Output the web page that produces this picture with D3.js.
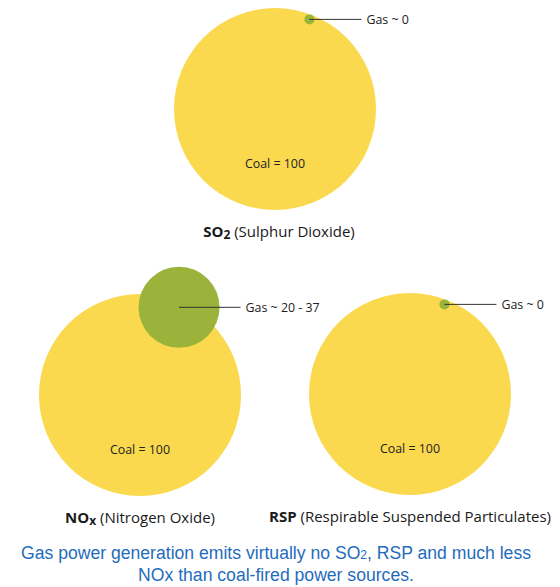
<!DOCTYPE html>
<html>
<head>
<meta charset="utf-8">
<script src="https://cdn.jsdelivr.net/npm/d3@7"></script>
<style>
  html, body { margin: 0; padding: 0; background: #ffffff; }
  svg { display: block; }
</style>
</head>
<body>
<svg id="chart" width="560" height="587"></svg>
<script>
// Emission comparison: coal-fired vs gas-fired generation (coal = 100)
const pollutants = ["SO", "NO", "RSP"];
const pollutantSubs = ["2", "x", ""];
const pollutantNames = ["(Sulphur Dioxide)", "(Nitrogen Oxide)", "(Respirable Suspended Particulates)"];
const coalValues = [100, 100, 100];
const gasValues = [0, 37, 0];
const coalLabels = ["Coal = 100", "Coal = 100", "Coal = 100"];
const gasLabels = ["Gas ~ 0", "Gas ~ 20 - 37", "Gas ~ 0"];
const footnoteLines = [
  ["Gas power generation emits virtually no SO", "2", ", RSP and much less"],
  ["NOx than coal-fired power sources.", "", ""]
];

const svg = d3.select("#chart");
const labelFont = "'Open Sans', 'Noto Sans', sans-serif";

// Radius proportional to value, with a small floor so near-zero emissions stay visible
const r = d3.scaleLinear().domain([0, 100]).range([5, 101]);

// Panel centres (one on top, two underneath) and where the gas circle sits on each rim
const centers = [[275, 109], [140, 395], [410, 394]];
const gasAngles = [-69, -66, -69];
const captionShift = [4, 0, 0];

const panels = svg.selectAll("g.panel")
  .data(pollutants.map((p, i) => ({
    p, sub: pollutantSubs[i], name: pollutantNames[i],
    coal: coalValues[i], gas: gasValues[i],
    coalLabel: coalLabels[i], gasLabel: gasLabels[i],
    cx: centers[i][0], cy: centers[i][1],
    angle: gasAngles[i] * Math.PI / 180, shift: captionShift[i]
  })))
  .join("g")
  .attr("class", "panel")
  .attr("transform", d => `translate(${d.cx},${d.cy})`);

// Coal circle
panels.append("circle")
  .attr("r", d => r(d.coal))
  .attr("fill", "#fad94e");

// Gas circle on the upper-right rim of the coal circle
panels.each(function (d) {
  const R = r(d.coal), gr = r(d.gas);
  const dist = R - 5;
  d.gx = dist * Math.cos(d.angle);
  d.gy = dist * Math.sin(d.angle);
  d.gr = gr;
  d.lineEnd = d.gx + Math.max(52, gr + 21);
});

panels.append("circle")
  .attr("cx", d => d.gx)
  .attr("cy", d => d.gy)
  .attr("r", d => d.gr)
  .attr("fill", "#9bb33a");

panels.append("line")
  .attr("x1", d => d.gx)
  .attr("y1", d => d.gy)
  .attr("x2", d => d.lineEnd)
  .attr("y2", d => d.gy)
  .attr("stroke", "#333")
  .attr("stroke-width", 1);

panels.append("text")
  .attr("x", d => d.lineEnd + 5)
  .attr("y", d => d.gy + 4.5)
  .attr("font-family", labelFont)
  .attr("font-size", 12.4)
  .attr("fill", "#222")
  .text(d => d.gasLabel);

panels.append("text")
  .attr("x", 0)
  .attr("y", 59)
  .attr("text-anchor", "middle")
  .attr("font-family", labelFont)
  .attr("font-size", 12.4)
  .attr("fill", "#222")
  .text(d => d.coalLabel);

// Pollutant caption under each circle
const cap = panels.append("text")
  .attr("x", d => d.shift)
  .attr("y", d => r(d.coal) + 27)
  .attr("text-anchor", "middle")
  .attr("font-family", labelFont)
  .attr("font-size", 15)
  .attr("fill", "#1a1a1a");

cap.append("tspan").attr("font-weight", "bold").text(d => d.p);
cap.append("tspan")
  .attr("font-weight", "bold")
  .attr("font-size", 12)
  .attr("dy", 2)
  .text(d => d.sub);
cap.append("tspan")
  .attr("dy", d => d.sub ? -2 : 0)
  .text(d => " " + d.name);

// Footnote
const foot = svg.append("g")
  .attr("font-family", "'Liberation Sans', Arial, sans-serif")
  .attr("font-size", 17.6)
  .attr("fill", "#1f6cbd")
  .attr("text-anchor", "middle");

footnoteLines.forEach((parts, i) => {
  const t = foot.append("text").attr("x", 276).attr("y", 559 + i * 22);
  t.append("tspan").text(parts[0]);
  if (parts[1]) {
    t.append("tspan").attr("font-size", 12).text(parts[1]);
    t.append("tspan").text(parts[2]);
  }
});
</script>
</body>
</html>
